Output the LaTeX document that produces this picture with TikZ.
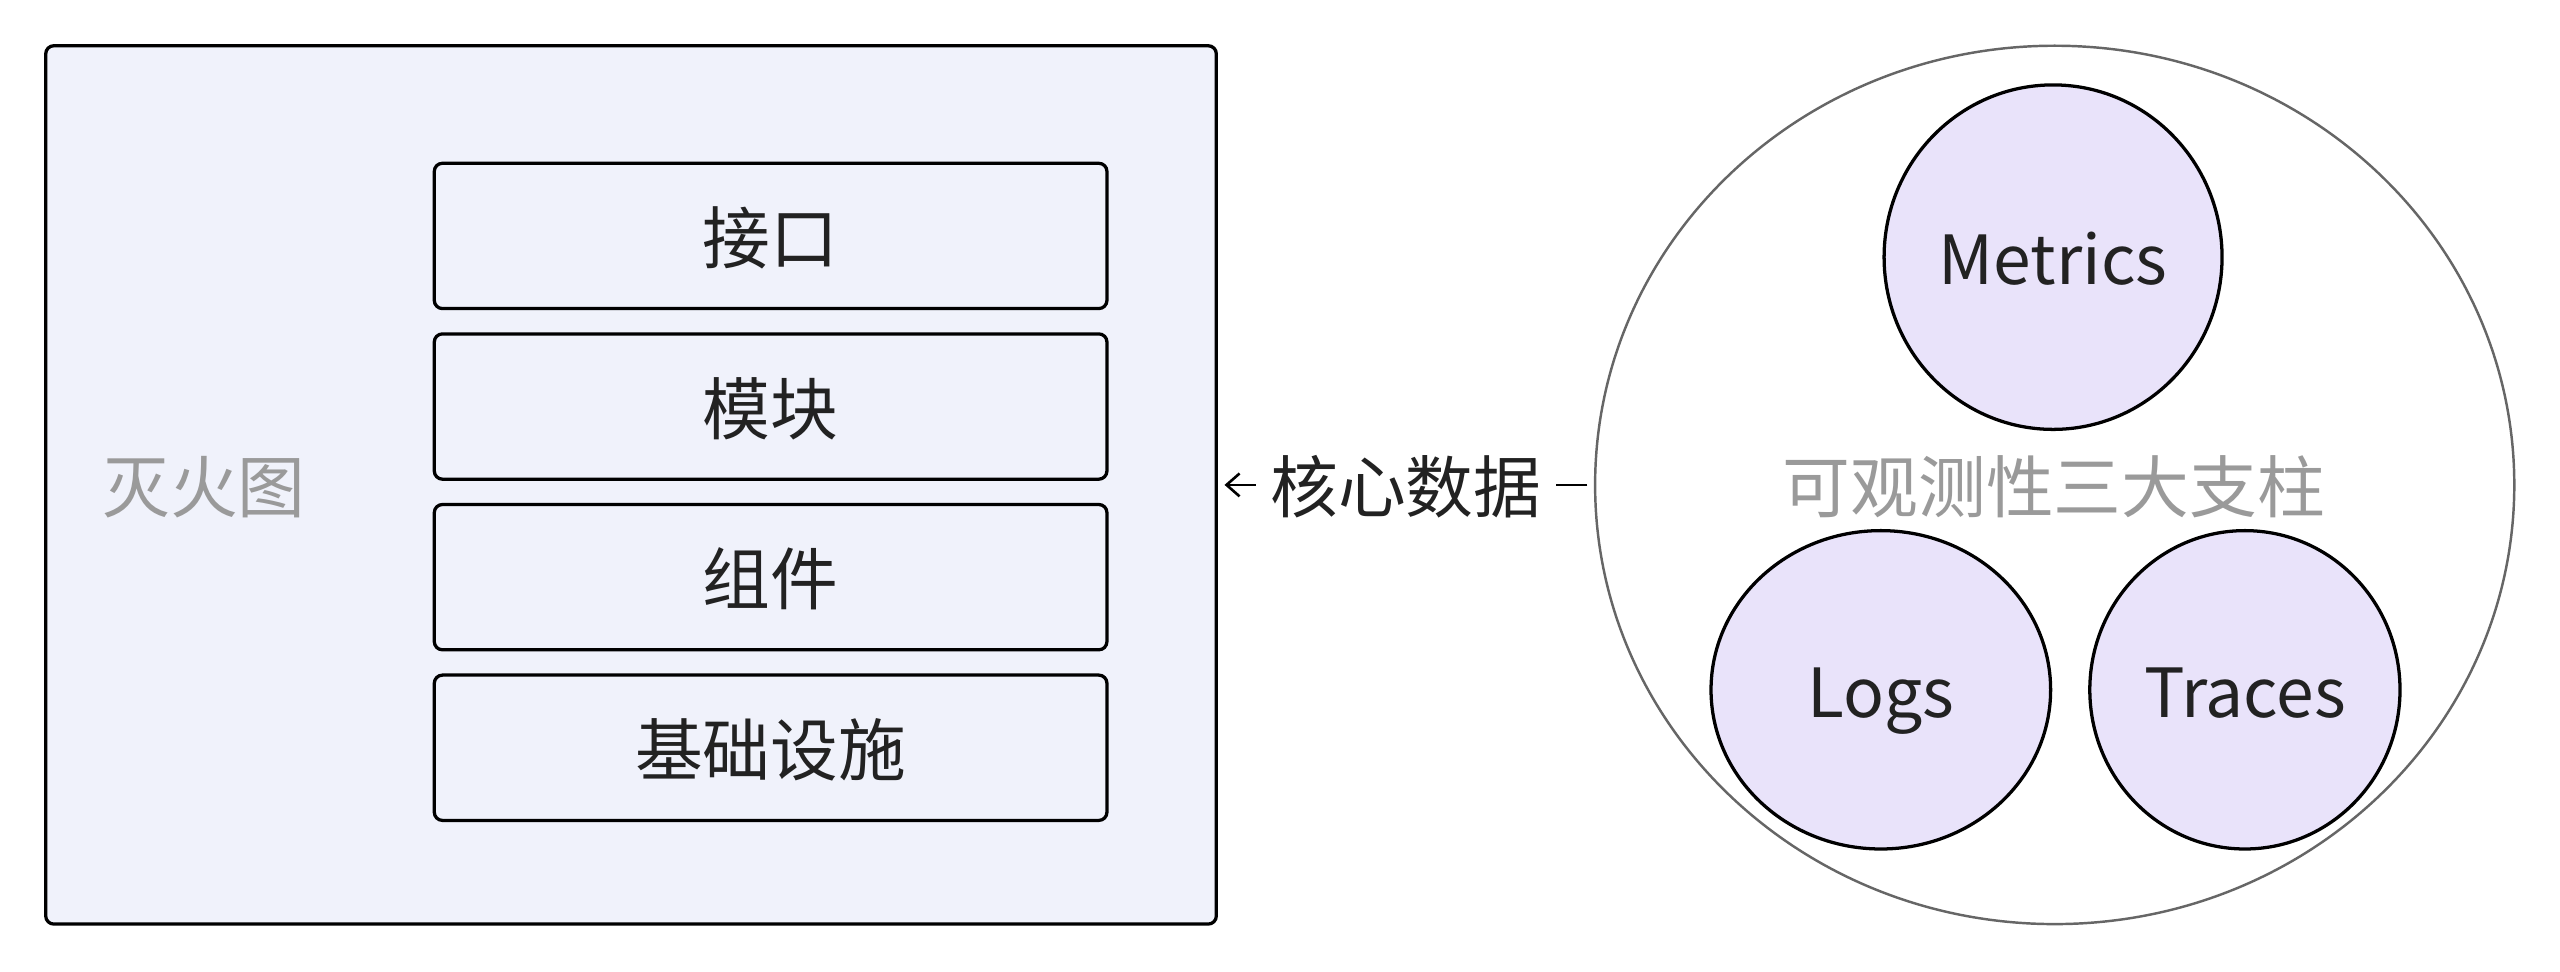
\documentclass[tikz,border=0pt]{standalone}
\usepackage{fontspec}
\setmainfont{Noto Sans CJK SC}
\usepackage{tikz}
\usetikzlibrary{shapes.geometric,arrows.meta}
\definecolor{boxfill}{HTML}{F0F2FB}
\definecolor{pillarfill}{HTML}{E9E3FA}
\definecolor{labelgray}{HTML}{9A9A9A}
\definecolor{inktext}{HTML}{222222}

\begin{document}
\begin{tikzpicture}[x=1pt, y=-1pt,
    every node/.style={font=\fontsize{41.5}{50}\selectfont, text=inktext, text height=36pt, text depth=2pt},
    layer/.style={draw=black, line width=2pt, fill=boxfill, rounded corners=5pt, minimum width=412pt, minimum height=89pt, inner sep=0pt},
    pillar/.style={ellipse, draw=black, line width=2pt, fill=pillarfill, inner sep=0pt},
    caption/.style={text=labelgray}]
                \useasboundingbox (0,0) rectangle (1568,595);
                \node[draw=black, line width=2pt, fill=boxfill, rounded corners=5pt, minimum width=717pt, minimum height=538pt] (fire) at (386.5,297) {};
                \node[caption] (firelabel) at (125,297) {灭火图};
                \node[layer] (api) at (472,144.5) {接口};
                \node[layer] (module) at (472,249) {模块};
                \node[layer] (component) at (472,353.5) {组件};
                \node[layer] (infra) at (472,458) {基础设施};
                % pillars
                \node[ellipse, draw=black!60, line width=1.5pt, fill=white, minimum width=563pt, minimum height=538pt] (pillars) at (1258.5,297) {};
                \node[caption] (pillarlabel) at (1258,297) {可观测性三大支柱};
                \node[pillar, minimum width=207pt, minimum height=211pt] (metrics) at (1257.5,157.5) {Metrics};
                \node[pillar, minimum width=208pt, minimum height=195pt] (logs) at (1152,422.5) {Logs};
                \node[pillar, minimum width=190pt, minimum height=195pt] (traces) at (1375,422.5) {Traces};
                \draw[-{Straight Barb[length=8pt,width=14pt]}, line width=1.6pt, shorten >=4pt, shorten <=4pt] (pillars) -- node[fill=white, inner xsep=9pt, inner ysep=2pt] {核心数据} (fire);
            \end{tikzpicture}
\end{document}
